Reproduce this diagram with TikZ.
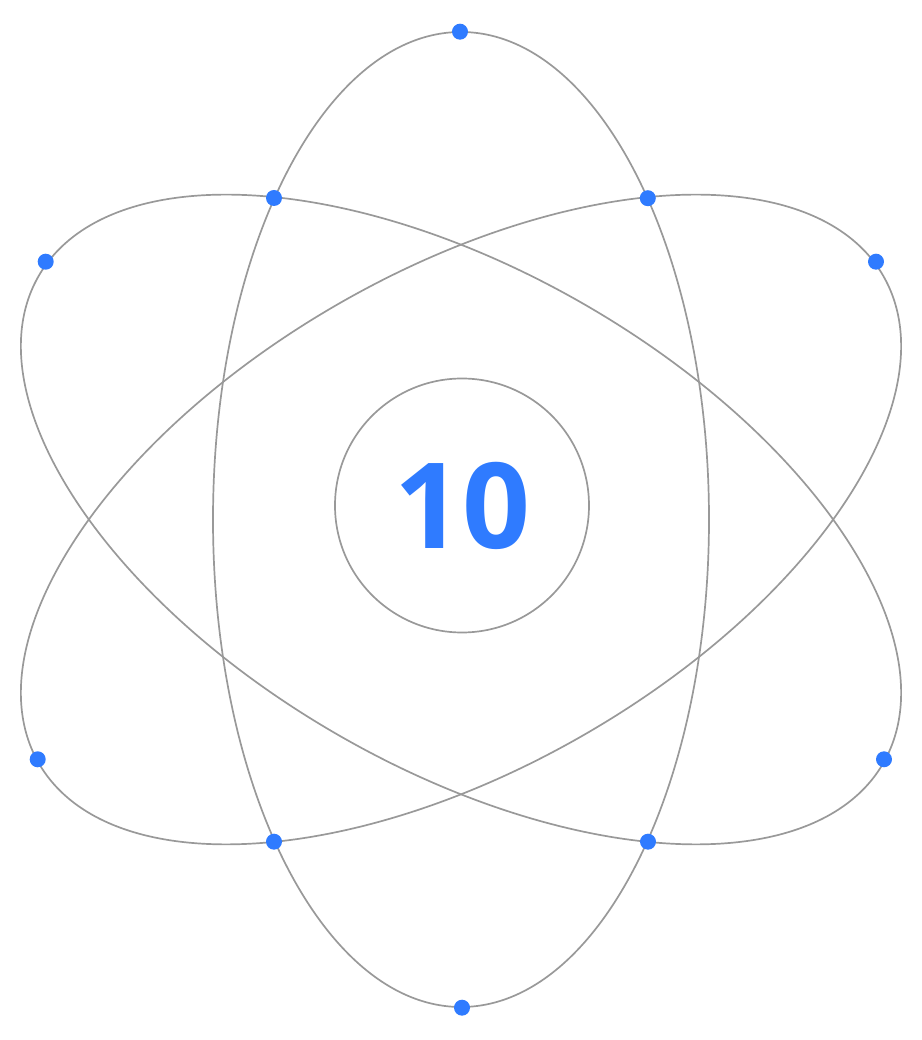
\documentclass[tikz,border=0pt]{standalone}
\usepackage{fontspec}
\newfontfamily\numfont{Open Sans}
\definecolor{orbitgray}{HTML}{999999}
\definecolor{dotblue}{HTML}{2F7BFF}
\begin{document}
\begin{tikzpicture}[
  orbit/.style={draw=orbitgray, line width=0.85pt},
  electron/.style={circle, fill=dotblue, draw=none, minimum size=8pt, inner sep=0pt},
  corebox/.style={circle, draw=orbitgray, line width=0.85pt, minimum size=127pt, inner sep=0pt,
    text=dotblue, font=\numfont\bfseries\fontsize{59.5pt}{60pt}\selectfont}
]
\useasboundingbox (0pt,0pt) rectangle (461pt,520pt);
\coordinate (C) at (230.5pt,260.25pt);
% orbits
\draw[orbit] (C) ellipse [x radius=124pt, y radius=243.75pt];
\draw[orbit, rotate around={60:(C)}] (C) ellipse [x radius=124pt, y radius=243.75pt];
\draw[orbit, rotate around={-60:(C)}] (C) ellipse [x radius=124pt, y radius=243.75pt];
% nucleus
\node[corebox] (core) at (231pt,267.25pt) {\raisebox{-1pt}{10}};
% electrons
\node[electron] (dtop) at (230pt,504.15pt) {};
\node[electron] (dbot) at (231pt,16.15pt) {};
\node[electron] (dlt) at (22.85pt,389.15pt) {};
\node[electron] (dlb) at (18.85pt,140.35pt) {};
\node[electron] (drt) at (438pt,389.15pt) {};
\node[electron] (drb) at (442pt,140.35pt) {};
\node[electron] (ia) at (137pt,421pt) {};
\node[electron] (ib) at (323.9pt,420.9pt) {};
\node[electron] (ic) at (137pt,99.15pt) {};
\node[electron] (id) at (324pt,99.15pt) {};
\end{tikzpicture}
\end{document}
